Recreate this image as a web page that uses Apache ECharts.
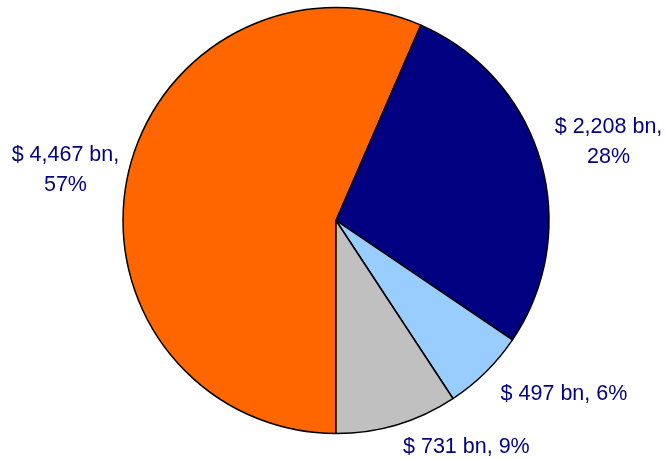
<!DOCTYPE html>
<html>
<head>
<meta charset="utf-8">
<script src="https://cdn.jsdelivr.net/npm/echarts@6/dist/echarts.min.js"></script>
<style>
  html, body { margin: 0; padding: 0; background: #fff; }
  #chart { width: 666px; height: 459px; }
</style>
</head>
<body>
<div id="chart"></div>
<script>
// Slice values in $ bn, listed clockwise from the bottom of the pie
const values = [4467, 2208, 497, 731];
const sliceColors = ['#FF6600', '#000080', '#99CCFF', '#C0C0C0'];
// Small nudges for each label after the outside layout
const labelNudge = [[-3, -7], [9, -19], [10, 22], [1, 23]];

function fmtNumber(v) {
  return v.toLocaleString('en-US');
}

const chart = echarts.init(document.getElementById('chart'), null, { renderer: 'canvas' });

chart.setOption({
  animation: false,
  backgroundColor: '#ffffff',
  series: [{
    type: 'pie',
    center: [336, 220.5],
    radius: 213,
    startAngle: -90,
    clockwise: true,
    avoidLabelOverlap: false,
    percentPrecision: 0,
    itemStyle: { borderColor: '#000000', borderWidth: 1.5 },
    emphasis: { disabled: true },
    label: {
      show: true,
      position: 'outside',
      distance: 9.5,
      color: '#000080',
      fontFamily: 'Liberation Sans, Arial, sans-serif',
      fontSize: 21.5,
      lineHeight: 30,
      formatter: function (p) {
        const amount = '$ ' + fmtNumber(p.value) + ' bn,';
        if (p.percent >= 20) {
          return '{c|' + amount + '}\n{c|' + p.percent + '%}';
        }
        return amount + ' ' + p.percent + '%';
      },
      rich: {
        c: {
          width: 108,
          align: 'center',
          color: '#000080',
          fontFamily: 'Liberation Sans, Arial, sans-serif',
          fontSize: 21.5,
          lineHeight: 30
        }
      }
    },
    labelLine: { show: false, length: 0, length2: 0 },
    labelLayout: function (params) {
      const n = labelNudge[params.dataIndex];
      return { dx: n[0], dy: n[1] };
    },
    data: values.map(function (v, i) {
      return { value: v, itemStyle: { color: sliceColors[i] } };
    })
  }]
});
</script>
</body>
</html>
